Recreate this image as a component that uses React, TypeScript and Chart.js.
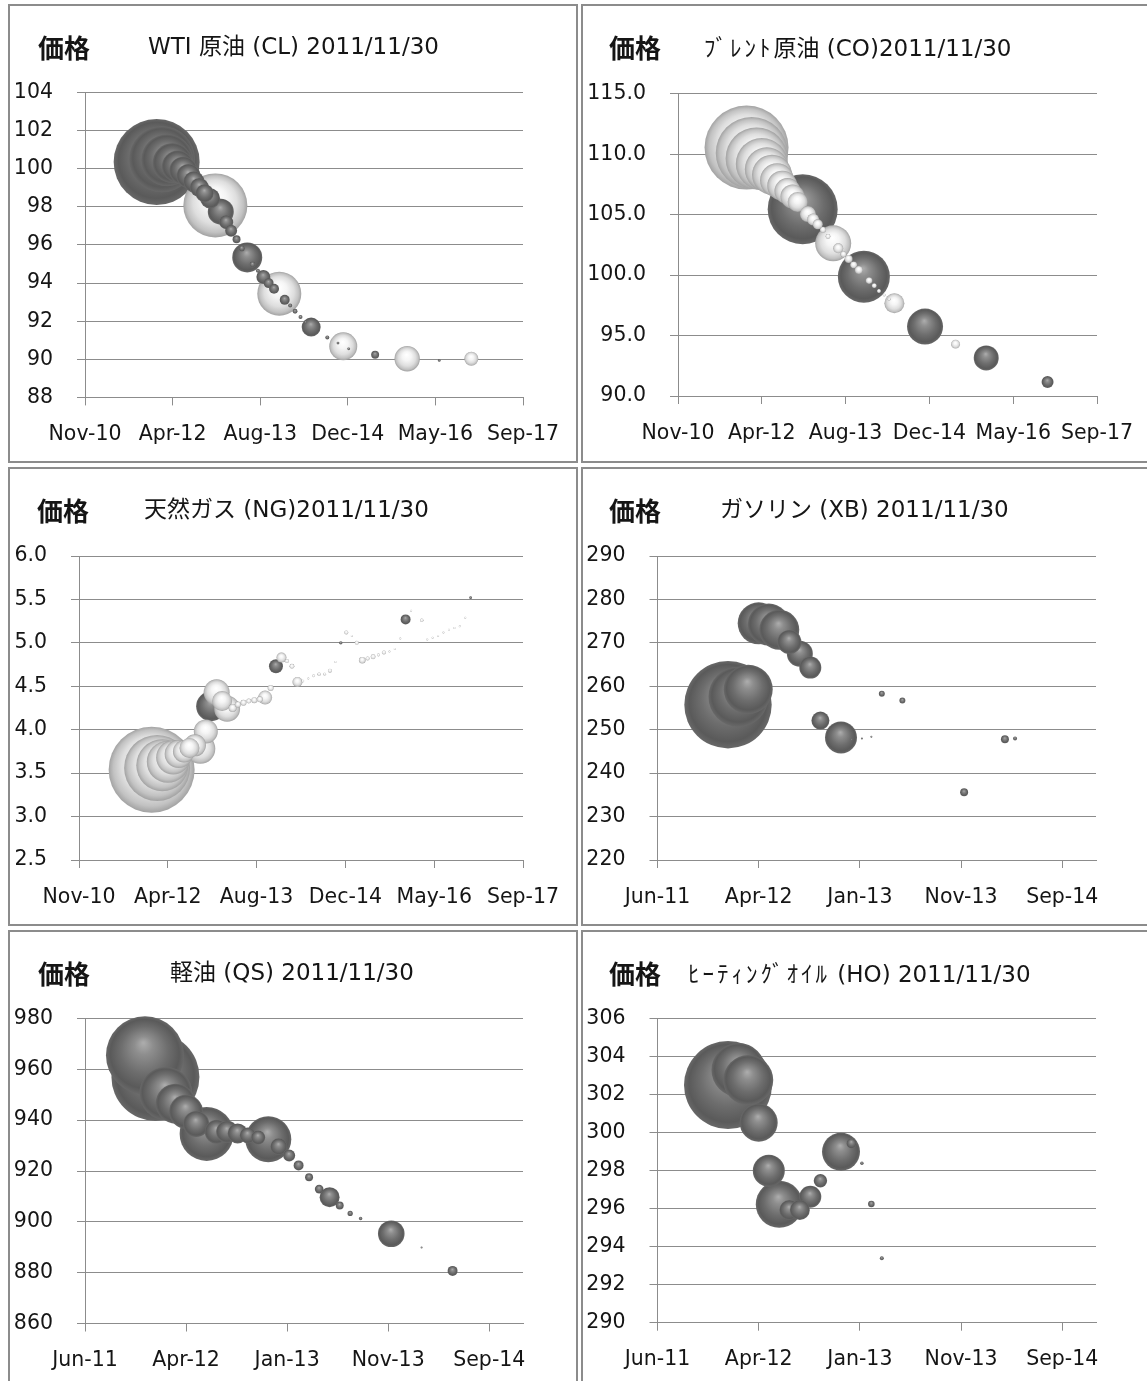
import React, { useEffect, useRef } from 'react';
import { Chart, registerables } from 'chart.js';

Chart.register(...registerables);

// ---------- axis tick values (Excel date serials) ----------
const longDateTicks = [40500, 41000, 41500, 42000, 42500, 43000];
const shortDateTicks = [40700, 41000, 41300, 41600, 41900];

// ---------- WTI crude (CL) ----------
const clMonths = ['2012-01','2012-02','2012-03','2012-04','2012-05','2012-06','2012-07','2012-08','2012-09','2012-10','2012-11','2012-12',
  '2013-01','2013-02','2013-03','2013-04','2013-05','2013-06','2013-07','2013-08','2013-09','2013-10','2013-11','2013-12',
  '2014-01','2014-02','2014-03','2014-04','2014-05','2014-06','2014-09','2014-11','2014-12','2015-01','2015-06','2015-12','2016-06','2016-12'];
const clPrices = [100.36,100.50,100.45,100.30,100.12,99.90,99.62,99.32,99.02,98.72,98.45,98.08,
  97.75,97.20,96.75,96.30,95.82,95.35,94.98,94.65,94.32,94.00,93.70,93.44,
  93.12,92.82,92.52,92.22,91.95,91.69,91.15,90.85,90.68,90.55,90.24,90.03,89.94,90.03];
// bubble sizes (negative = shown as white bubble)
const clSizes = [1849,1089,676,400,256,196,144,110,90,81,100,-1024,
  169,49,36,16,9,225,9,4,49,25,25,-484,
  25,4,6,4,2,90,4,2,-196,2,16,-161,2,-49];

// ---------- Brent crude (CO) ----------
const coMonths = ['2012-01','2012-02','2012-03','2012-04','2012-05','2012-06','2012-07','2012-08','2012-09','2012-10','2012-11','2012-12',
  '2013-01','2013-02','2013-03','2013-04','2013-05','2013-06','2013-07','2013-08','2013-09','2013-10','2013-11','2013-12',
  '2014-01','2014-02','2014-03','2014-04','2014-05','2014-06','2014-12','2015-06','2015-12','2016-12'];
const coPrices = [110.55,110.10,109.65,109.20,108.75,108.30,107.85,107.40,106.95,106.50,106.05,105.45,
  105.05,104.60,104.20,103.75,103.20,102.63,102.22,101.73,101.34,100.85,100.43,99.87,
  99.55,99.13,98.69,98.35,98.00,97.67,95.74,94.29,93.15,91.15];
const coSizes = [-1764,-1296,-961,-676,-484,-400,-289,-225,-169,-144,-100,1225,
  -64,-36,-25,-9,-6,-324,-25,-9,-16,-12,-16,676,
  -11,-6,-4,-2,-2,-100,324,-20,156,36];

// ---------- Natural gas (NG) ----------
const ngMonths = ['2012-01','2012-02','2012-03','2012-04','2012-05','2012-06','2012-07','2012-08','2012-09','2012-10','2012-11','2012-12',
  '2013-01','2013-02','2013-03','2013-04','2013-05','2013-06','2013-07','2013-08','2013-09','2013-10','2013-11','2013-12',
  '2014-01','2014-02','2014-03','2014-04','2014-05','2014-06','2014-07','2014-08','2014-09','2014-10','2014-11','2014-12',
  '2015-01','2015-02','2015-03','2015-04','2015-05','2015-06','2015-07','2015-08','2015-09','2015-10','2015-11','2015-12',
  '2016-01','2016-03','2016-04','2016-05','2016-06','2016-07','2016-08','2016-09','2016-10','2016-11','2016-12'];
const ngPrices = [3.54,3.56,3.59,3.63,3.68,3.72,3.75,3.79,3.82,3.78,3.98,4.27,
  4.43,4.33,4.24,4.25,4.29,4.31,4.33,4.34,4.35,4.37,4.48,4.73,
  4.83,4.79,4.73,4.55,4.56,4.59,4.62,4.64,4.64,4.68,4.78,5.00,
  5.12,5.08,5.00,4.80,4.82,4.84,4.86,4.89,4.90,4.93,5.05,5.27,
  5.37,5.26,5.04,5.06,5.08,5.12,5.15,5.17,5.19,5.29,5.52];
const ngSizes = [-1849,-1089,-676,-441,-289,-196,-121,-100,-121,-225,-144,225,
  -169,-100,-169,-16,-9,-9,-6,-9,-9,-49,-9,49,
  -25,-4,-6,-25,-2,-1,-2,-3,-2,-4,-1,3,
  -4,-1,-4,-11,-4,-6,-2,-4,-1,-1,-1,25,
  -1,-3,-1,-1,-1,-1,-1,-1,-1,-1,2];

// ---------- Gasoline (XB) ----------
const xbMonths = ['2012-01','2012-02','2012-03','2012-04','2012-05','2012-06','2012-07','2012-08','2012-09','2012-10','2012-12',
  '2013-01','2013-02','2013-03','2013-04','2013-06','2013-12','2014-04','2014-05'];
const xbPrices = [255.75,257.6,259.3,274.5,274.2,273.0,270.2,267.5,264.3,252.1,248.2,
  247.8,248.0,248.4,258.3,256.7,235.6,247.8,248.0];
const xbSizes = [1910,900,600,441,441,400,144,169,121,81,256,
  1,1,1,9,9,16,16,4];

// ---------- Gasoil (QS) ----------
const qsMonths = ['2011-12','2012-01','2012-02','2012-03','2012-04','2012-05','2012-06','2012-07','2012-08','2012-09','2012-10','2012-11','2012-12',
  '2013-01','2013-02','2013-03','2013-04','2013-05','2013-06','2013-07','2013-08','2013-09','2013-12','2014-03','2014-06'];
const qsPrices = [965.5,957.0,950.5,946.5,943.3,938.5,934.6,935.4,935.4,934.8,934.0,933.2,932.5,
  929.6,926.1,922.2,917.5,912.9,909.7,906.4,903.3,901.3,895.3,889.9,880.7];
const qsSizes = [1521,1936,700,400,289,169,729,144,121,100,64,49,529,
  69,36,25,16,19,100,16,7,3,177,1,25];

// ---------- Heating oil (HO) ----------
const hoMonths = ['2012-01','2012-02','2012-03','2012-04','2012-05','2012-06','2012-07','2012-08','2012-09','2012-10','2012-12',
  '2013-01','2013-02','2013-03','2013-04'];
const hoPrices = [302.51,303.30,302.77,300.53,298.00,296.23,295.93,295.93,296.63,297.47,299.00,
  299.44,298.39,296.25,293.39];
const hoSizes = [1936,729,625,361,256,552,100,100,121,45,361,
  25,3,11,4];

// ---------- helpers ----------
const MONTH_ABBR = ['Jan','Feb','Mar','Apr','May','Jun','Jul','Aug','Sep','Oct','Nov','Dec'];
const SERIAL_1970 = 25569;
function monthToSerial(m: string): number {
  const [y, mo] = m.split('-').map(Number);
  return Date.UTC(y, mo - 1, 1) / 86400000 + SERIAL_1970;
}
function serialToLabel(s: number): string {
  const d = new Date((s - SERIAL_1970) * 86400000);
  return MONTH_ABBR[d.getUTCMonth()] + '-' + String(d.getUTCFullYear() % 100).padStart(2, '0');
}

const BORDER = 2;
const FRAME_COLOR = '#8c8c8c';
const GRID_COLOR = '#8c8c8c';
const TEXT_COLOR = '#151515';
const TICK_FONT = { family: '"DejaVu Sans", "Noto Sans CJK JP", sans-serif', size: 20.5 };

type PanelDef = {
  key: string;
  title: string;
  kakakuX: number;
  titleX: number;
  titleCY: number;
  box: [number, number, number, number];
  plot: [number, number, number, number];
  months: string[];
  prices: number[];
  sizes: number[];
  maxRadius: number;
  yMin: number; yMax: number; yStep: number; yDec: number;
  xMin: number; xMax: number; xTicks: number[];
};

const panels: PanelDef[] = [
  { key: 'cl', title: 'WTI 原油 (CL) 2011/11/30', kakakuX: 38, titleX: 148, titleCY: 46.5,
    box: [8, 4, 570, 459], plot: [85, 92.6, 523, 397.4],
    months: clMonths, prices: clPrices, sizes: clSizes, maxRadius: 43,
    yMin: 88, yMax: 104, yStep: 2, yDec: 0, xMin: 40500, xMax: 43000, xTicks: longDateTicks },
  { key: 'co', title: 'ﾌﾞﾚﾝﾄ原油 (CO)2011/11/30', kakakuX: 609, titleX: 704, titleCY: 46.5,
    box: [581, 4, 570, 459], plot: [678, 93.8, 1097, 396],
    months: coMonths, prices: coPrices, sizes: coSizes, maxRadius: 42,
    yMin: 90, yMax: 115, yStep: 5, yDec: 1, xMin: 40500, xMax: 43000, xTicks: longDateTicks },
  { key: 'ng', title: '天然ガス (NG)2011/11/30', kakakuX: 37, titleX: 144, titleCY: 509.5,
    box: [8, 467, 570, 459], plot: [79, 556, 523, 860],
    months: ngMonths, prices: ngPrices, sizes: ngSizes, maxRadius: 43,
    yMin: 2.5, yMax: 6, yStep: 0.5, yDec: 1, xMin: 40500, xMax: 43000, xTicks: longDateTicks },
  { key: 'xb', title: 'ガソリン (XB) 2011/11/30', kakakuX: 609, titleX: 720, titleCY: 509.5,
    box: [581, 467, 570, 459], plot: [657.5, 556, 1096, 860],
    months: xbMonths, prices: xbPrices, sizes: xbSizes, maxRadius: 43.7,
    yMin: 220, yMax: 290, yStep: 10, yDec: 0, xMin: 40700, xMax: 42000, xTicks: shortDateTicks },
  { key: 'qs', title: '軽油 (QS) 2011/11/30', kakakuX: 38, titleX: 170, titleCY: 972.5,
    box: [8, 930, 570, 459], plot: [85, 1018.5, 523, 1323.5],
    months: qsMonths, prices: qsPrices, sizes: qsSizes, maxRadius: 44,
    yMin: 860, yMax: 980, yStep: 20, yDec: 0, xMin: 40700, xMax: 42000, xTicks: shortDateTicks },
  { key: 'ho', title: 'ﾋｰﾃｨﾝｸﾞｵｲﾙ (HO) 2011/11/30', kakakuX: 609, titleX: 688, titleCY: 972.5,
    box: [581, 930, 570, 459], plot: [657.5, 1018.7, 1096, 1322.7],
    months: hoMonths, prices: hoPrices, sizes: hoSizes, maxRadius: 44,
    yMin: 290, yMax: 306, yStep: 2, yDec: 0, xMin: 40700, xMax: 42000, xTicks: shortDateTicks },
];

// split a title so half-width katakana runs can be spaced a little wider
function titleParts(t: string): { text: string; kana: boolean }[] {
  const parts: { text: string; kana: boolean }[] = [];
  for (const ch of Array.from(t)) {
    const c = ch.codePointAt(0) || 0;
    const kana = c >= 0xff61 && c <= 0xff9f;
    const last = parts[parts.length - 1];
    if (last && last.kana === kana) last.text += ch;
    else parts.push({ text: ch, kana });
  }
  return parts;
}

function sphereFill(ctx: any) {
  const raw = ctx.raw;
  if (!raw) return '#6a6a6a';
  const chart = ctx.chart;
  const xs = chart.scales.x, ys = chart.scales.y;
  const x = xs ? xs.getPixelForValue(raw.x) : NaN;
  const y = ys ? ys.getPixelForValue(raw.y) : NaN;
  const r = raw.r;
  if (!isFinite(x) || !isFinite(y) || !(r > 0)) return raw.neg ? '#e0e0e0' : '#6a6a6a';
  const g = chart.ctx.createRadialGradient(x - r * 0.04, y - r * 0.32, r * 0.02, x, y, r);
  if (raw.neg) {
    g.addColorStop(0, '#ffffff');
    g.addColorStop(0.35, '#f5f5f5');
    g.addColorStop(0.68, '#dedede');
    g.addColorStop(0.88, '#c2c2c2');
    g.addColorStop(1, '#a2a2a2');
  } else {
    g.addColorStop(0, '#ababab');
    g.addColorStop(0.22, '#8e8e8e');
    g.addColorStop(0.6, '#6d6d6d');
    g.addColorStop(0.88, '#5a5a5a');
    g.addColorStop(1, '#686868');
  }
  return g;
}

function BubblePanel({ def }: { def: PanelDef }) {
  const ref = useRef<HTMLCanvasElement>(null);
  const [bl, bt, bw, bh] = def.box;
  const ox = bl + BORDER, oy = bt + BORDER;
  const cw = bw - 2 * BORDER, ch = bh - 2 * BORDER;

  useEffect(() => {
    const canvas = ref.current;
    if (!canvas) return;
    const [pl, pt, pr, pb] = def.plot;
    const vmax = Math.max(...def.sizes.map((v) => Math.abs(v)));
    const points = def.months
      .map((m, i) => ({
        x: monthToSerial(m),
        y: def.prices[i],
        r: def.maxRadius * Math.sqrt(Math.abs(def.sizes[i]) / vmax),
        neg: def.sizes[i] < 0,
      }))
      .sort((a, b) => b.r - a.r);

    const yAxisWidth = pl - ox;
    const xAxisHeight = oy + ch - pb;

    const chart = new Chart(canvas, {
      type: 'bubble',
      data: {
        datasets: [{
          data: points as any,
          backgroundColor: sphereFill as any,
          borderWidth: 0,
          hoverRadius: 0,
          clip: false as any,
        }],
      },
      options: {
        responsive: false,
        animation: false,
        events: [],
        layout: {
          autoPadding: false,
          padding: { top: pt - oy, right: ox + cw - pr, bottom: 0, left: 0 },
        },
        plugins: {
          legend: { display: false },
          tooltip: { enabled: false },
          title: { display: false },
        },
        scales: {
          x: {
            type: 'linear',
            position: 'bottom',
            min: def.xMin,
            max: def.xMax,
            afterBuildTicks: (scale: any) => {
              scale.ticks = def.xTicks.map((v) => ({ value: v }));
            },
            afterFit: (scale: any) => {
              scale.height = xAxisHeight;
              scale.paddingLeft = 0;
              scale.paddingRight = 0;
            },
            ticks: {
              autoSkip: false,
              maxRotation: 0,
              minRotation: 0,
              padding: 17,
              color: TEXT_COLOR,
              font: TICK_FONT,
              callback: (v: any) => serialToLabel(Number(v)),
            },
            grid: {
              drawOnChartArea: false,
              drawTicks: true,
              tickLength: 8,
              color: GRID_COLOR,
              lineWidth: 1,
            },
            border: { display: true, color: GRID_COLOR, width: 1 },
          },
          y: {
            type: 'linear',
            position: 'left',
            min: def.yMin,
            max: def.yMax,
            afterFit: (scale: any) => {
              scale.width = yAxisWidth;
              scale.paddingTop = 0;
              scale.paddingBottom = 0;
            },
            ticks: {
              stepSize: def.yStep,
              padding: 24,
              color: TEXT_COLOR,
              font: TICK_FONT,
              callback: (v: any) => Number(v).toFixed(def.yDec),
            },
            grid: {
              drawOnChartArea: true,
              drawTicks: true,
              tickLength: 8,
              color: GRID_COLOR,
              lineWidth: 1,
            },
            border: { display: true, color: GRID_COLOR, width: 1 },
          },
        },
      } as any,
    });
    return () => chart.destroy();
  }, [def]);

  return (
    <>
      <div
        style={{
          position: 'absolute', left: bl, top: bt, width: bw, height: bh,
          boxSizing: 'border-box', border: `${BORDER}px solid ${FRAME_COLOR}`, background: '#fff',
        }}
      />
      <canvas
        ref={ref}
        width={cw}
        height={ch}
        style={{ position: 'absolute', left: ox, top: oy, width: cw, height: ch }}
      />
      <div
        style={{
          position: 'absolute', left: def.kakakuX, top: def.titleCY + 1.5 - 14.5,
          fontFamily: '"Noto Sans CJK JP", sans-serif', fontWeight: 700, fontSize: 26,
          lineHeight: '26px', color: TEXT_COLOR, whiteSpace: 'nowrap',
        }}
      >
        価格
      </div>
      <div
        style={{
          position: 'absolute', left: def.titleX, top: def.titleCY - 11.5,
          fontFamily: '"DejaVu Sans", "Noto Sans CJK JP", sans-serif', fontSize: 23,
          lineHeight: '23px', color: TEXT_COLOR, whiteSpace: 'nowrap',
        }}
      >
        {titleParts(def.title).map((p, i) =>
          p.kana ? (
            <span key={i} style={{ letterSpacing: '3px', fontFamily: '"Noto Sans CJK JP", sans-serif' }}>{p.text}</span>
          ) : (
            <span key={i}>{p.text}</span>
          )
        )}
      </div>
    </>
  );
}

export default function App() {
  return (
    <div style={{ position: 'absolute', left: 0, top: 0, width: 1147, height: 1381, overflow: 'hidden', background: '#fff' }}>
      {panels.map((p) => (
        <BubblePanel key={p.key} def={p} />
      ))}
    </div>
  );
}
